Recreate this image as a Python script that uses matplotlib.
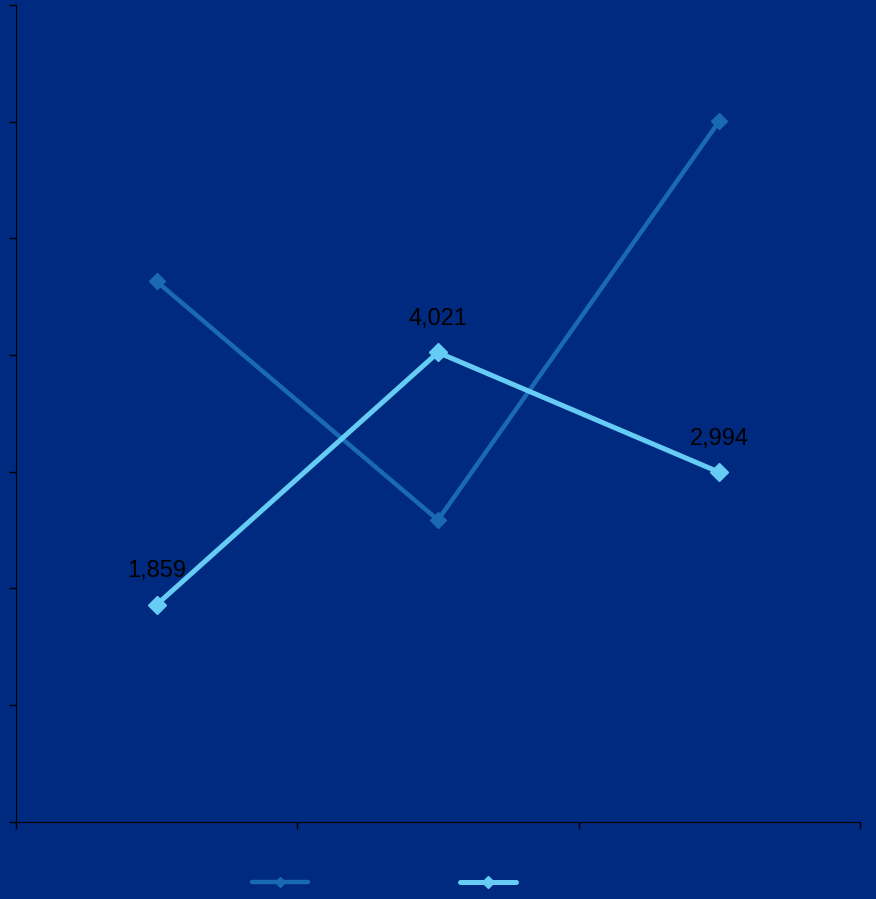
import matplotlib.pyplot as plt
import numpy as np

plt.rcParams['font.family'] = ['Liberation Sans', 'DejaVu Sans']

categories = ['A', 'B', 'C']
series_dark = [4630, 2585, 6005]
series_light = [1859, 4021, 2994]
light_labels = ['1,859', '4,021', '2,994']

bg = '#002a7f'
dark_col = '#1a69b3'
light_col = '#66ccf5'

fig = plt.figure(figsize=(8.76, 8.99), dpi=100, facecolor=bg)
ax = fig.add_axes([16 / 876, 77.5 / 899, 844 / 876, 816.5 / 899])
ax.set_facecolor(bg)

x = np.arange(len(categories)) + 0.5
l1, = ax.plot(x, series_dark, color=dark_col, lw=3.2, marker='D', ms=8,
              solid_capstyle='round')
l2, = ax.plot(x, series_light, color=light_col, lw=3.6, marker='D', ms=9,
              solid_capstyle='round')

for xi, yi, lab in zip(x, series_light, light_labels):
    ax.annotate(lab, (xi, yi), xytext=(0, 24), textcoords='offset points',
                ha='center', va='center', fontsize=17, color='black')

ax.set_xlim(0, 3)
ax.set_ylim(0, 7000)
ax.set_xticks([0, 1, 2, 3])
ax.set_yticks(np.arange(0, 7001, 1000))
ax.set_xticklabels([])
ax.set_yticklabels([])
ax.tick_params(direction='out', length=5, color='black', width=1)
for s in ['top', 'right']:
    ax.spines[s].set_visible(False)
for s in ['left', 'bottom']:
    ax.spines[s].set_color('black')

fig.legend([l1, l2], ['', ''], loc='center', bbox_to_anchor=(384 / 876, 16 / 899),
           ncol=2, frameon=False, handlelength=4, handletextpad=0,
           columnspacing=11, markerscale=0.7)

fig.savefig('out.png', facecolor=bg)
